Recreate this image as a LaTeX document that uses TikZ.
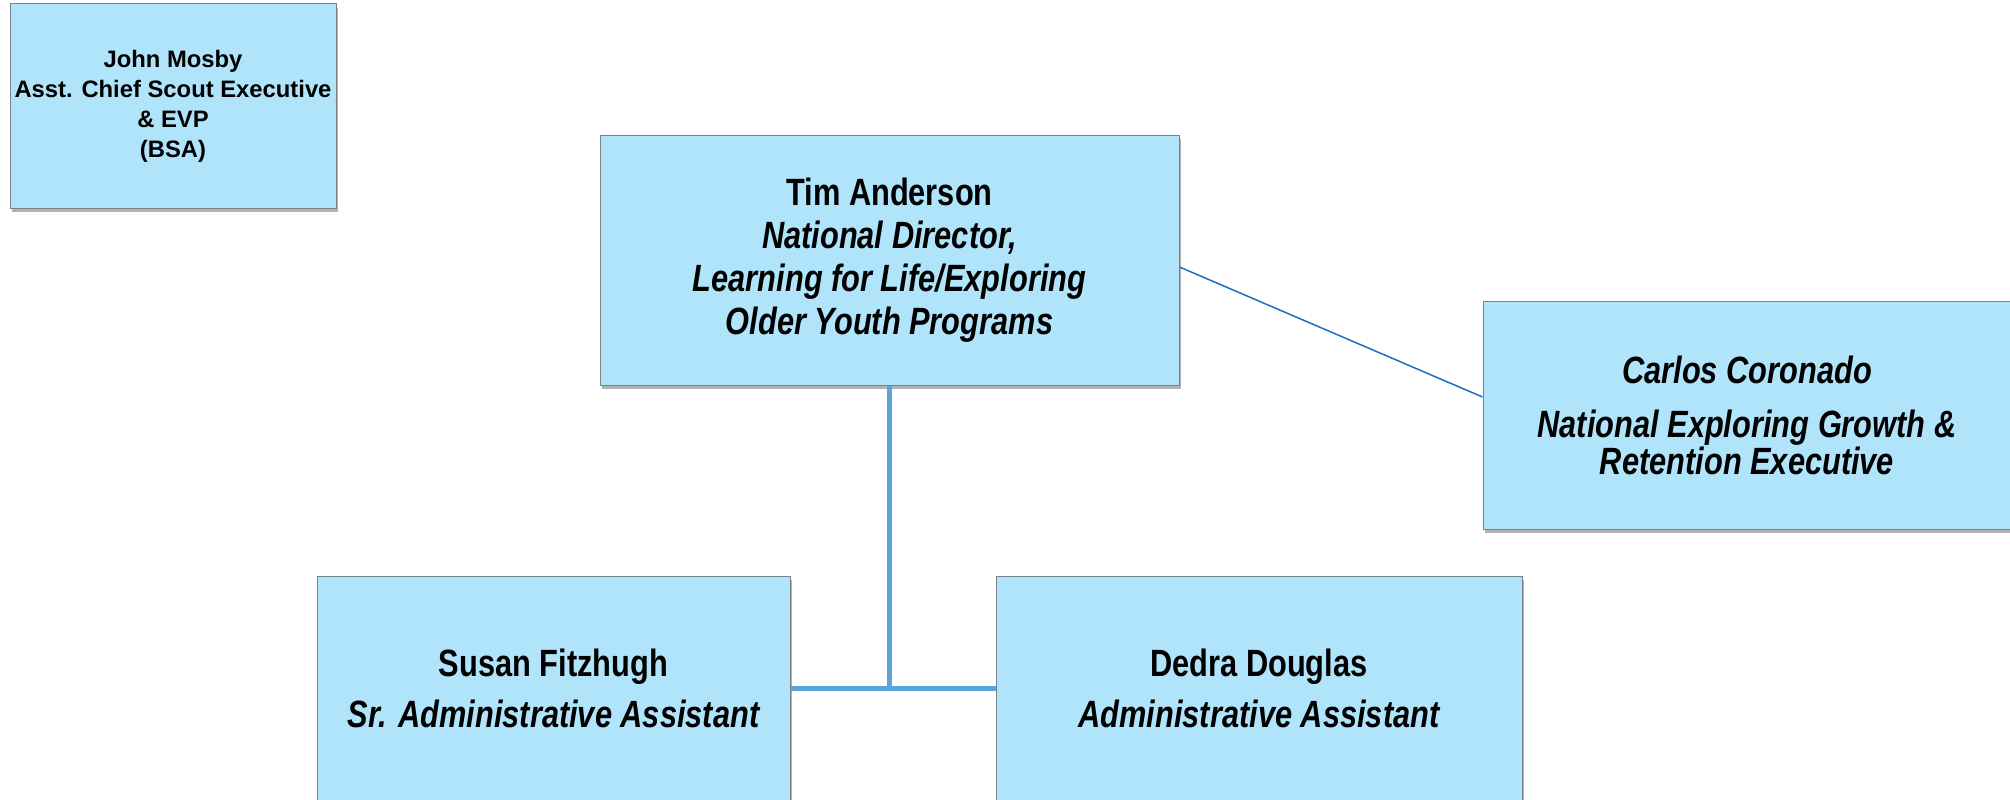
\documentclass[tikz,border=0pt]{standalone}
\usepackage{fontspec}
\setmainfont{Liberation Sans}
\newfontfamily\cond{Liberation Sans}[FakeStretch=0.81]
\usetikzlibrary{shadows}
\definecolor{boxfill}{RGB}{176,228,250}
\definecolor{boxline}{RGB}{120,130,140}
\definecolor{thickblue}{RGB}{91,165,218}
\definecolor{thinblue}{RGB}{30,110,195}
\tikzset{
  orgbox/.style={draw=boxline, line width=1pt, fill=boxfill, inner sep=0pt, align=center,
    drop shadow={shadow xshift=2pt, shadow yshift=-4pt, fill=black, opacity=0.3}},
  mainline/.style={draw=thickblue, line width=5pt},
  sideline/.style={draw=thinblue, line width=1.5pt},
}
\begin{document}
\begin{tikzpicture}[x=1pt,y=-1pt]
\useasboundingbox (0,0) rectangle (2010,800);
\fill[white] (0,0) rectangle (2010,800);
% John
\node[orgbox, minimum width=326pt, minimum height=204pt, font=\fontsize{23.8}{30}\selectfont\bfseries] (john) at (173,106)
  {John Mosby\\Asst. Chief Scout Executive\\\& EVP\\(BSA)};
% Tim
\node[orgbox, minimum width=579pt, minimum height=250pt, font=\cond\fontsize{38}{43}\selectfont\bfseries] (tim) at (889.5,260)
  {Tim Anderson\\\itshape National Director,\\\itshape Learning for Life/Exploring\\\itshape Older Youth Programs};
% Carlos
\node[orgbox, minimum width=528pt, minimum height=228pt, font=\cond\fontsize{38}{37}\selectfont\bfseries\itshape] (carlos) at (1747,415)
  {Carlos Coronado\\[17pt]National Exploring Growth \&\\Retention Executive};
% Susan
\node[orgbox, minimum width=473pt, minimum height=224pt, font=\cond\fontsize{38}{43}\selectfont\bfseries] (susan) at (553.5,688)
  {Susan Fitzhugh\\[8pt]\itshape Sr. Administrative Assistant};
% Dedra
\node[orgbox, minimum width=526pt, minimum height=224pt, font=\cond\fontsize{38}{43}\selectfont\bfseries] (dedra) at (1259,688)
  {Dedra Douglas\\[8pt]\itshape Administrative Assistant};
% connectors
\draw[mainline] (tim.south) -- (tim.south |- susan.east);
\draw[mainline] (susan.east) -- (dedra.west);
\draw[sideline] ([yshift=-7pt]tim.east) -- ([yshift=18pt]carlos.west);
\end{tikzpicture}
\end{document}
